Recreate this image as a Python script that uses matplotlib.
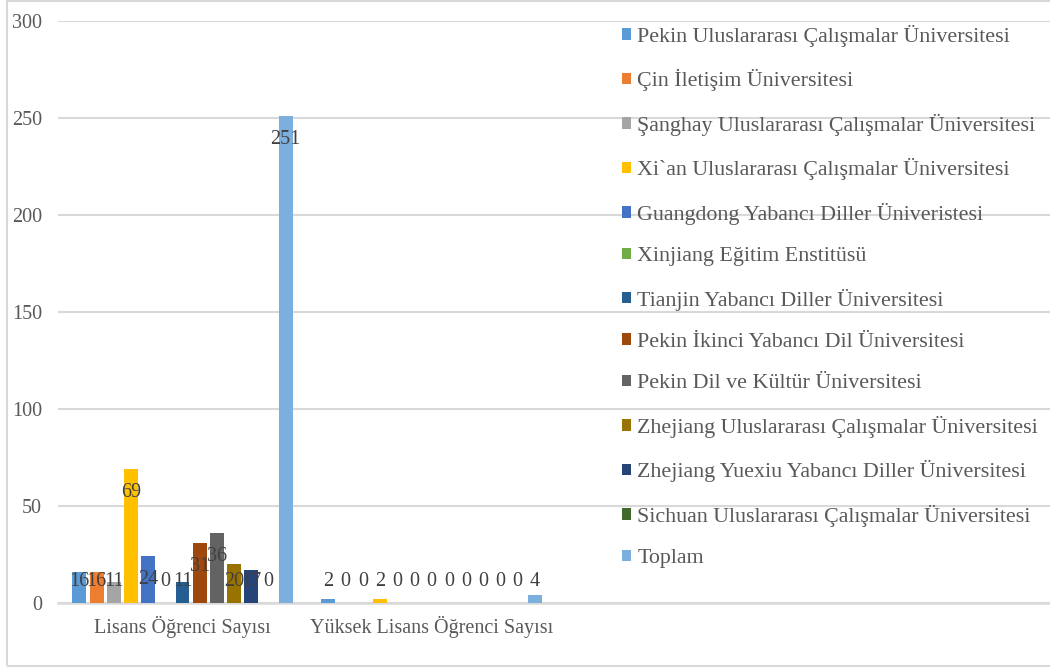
import matplotlib.pyplot as plt
import numpy as np
from matplotlib.patches import Rectangle

# veriler
kategoriler = ['Lisans Öğrenci Sayısı', 'Yüksek Lisans Öğrenci Sayısı']
universiteler = [
    'Pekin Uluslararası Çalışmalar Üniversitesi',
    'Çin İletişim Üniversitesi',
    'Şanghay Uluslararası Çalışmalar Üniversitesi',
    'Xi`an Uluslararası Çalışmalar Üniversitesi',
    'Guangdong Yabancı Diller Üniveristesi',
    'Xinjiang Eğitim Enstitüsü',
    'Tianjin Yabancı Diller Üniversitesi',
    'Pekin İkinci Yabancı Dil Üniversitesi',
    'Pekin Dil ve Kültür Üniversitesi',
    'Zhejiang Uluslararası Çalışmalar Üniversitesi',
    'Zhejiang Yuexiu Yabancı Diller Üniversitesi',
    'Sichuan Uluslararası Çalışmalar Üniversitesi',
    'Toplam',
]
lisans = [16, 16, 11, 69, 24, 0, 11, 31, 36, 20, 17, 0, 251]
yuksek_lisans = [2, 0, 0, 2, 0, 0, 0, 0, 0, 0, 0, 0, 4]
renkler = ['#5B9BD5', '#ED7D31', '#A5A5A5', '#FFC000', '#4472C4', '#70AD47',
           '#255E91', '#9E480E', '#636363', '#997300', '#264478', '#43682B',
           '#7CAFDD']

plt.rcParams['font.family'] = ['Liberation Serif', 'DejaVu Serif']
fs = 14.5      # eksen ve etiket yazıları
fs_leg = 15.8  # lejant

fig = plt.figure(figsize=(10.5, 6.69), dpi=100)
ax = fig.add_axes([58 / 1050, 1 - 603 / 669, 1 - 58 / 1050 + 0.004, (603 - 21) / 669])

n = len(universiteler)
adim = 0.069
genislik = 0.056
x = np.arange(len(kategoriler))
handles = []
for i in range(n):
    vals = [lisans[i], yuksek_lisans[i]]
    pos = x + (i - (n - 1) / 2) * adim
    b = ax.bar(pos, vals, genislik, color=renkler[i], label=universiteler[i], zorder=3)
    handles.append(b)
    for px_, v in zip(pos, vals):
        ax.text(px_, max(v - 12, 11.3), str(v), ha='center', va='center',
                fontsize=fs, color='#404040', zorder=4)

ax.set_xlim(-0.5, 3.5)
ax.set_ylim(0, 300)
ax.set_yticks(range(0, 301, 50))
ax.set_xticks(x)
ax.set_xticklabels(kategoriler)
ax.yaxis.grid(True, color='#D9D9D9', linewidth=1.5, zorder=0)
ax.tick_params(axis='both', length=0, labelsize=fs, labelcolor='#595959')
ax.tick_params(axis='y', pad=11.5)
ax.tick_params(axis='x', pad=9.5)
for s in ['top', 'right', 'left']:
    ax.spines[s].set_visible(False)
ax.spines['bottom'].set_color('#D9D9D9')
ax.spines['bottom'].set_linewidth(1.8)

leg = ax.legend(handles=handles, loc='upper left', bbox_to_anchor=(613 / 1050, 1 - 16 / 669),
                bbox_transform=fig.transFigure, frameon=False, fontsize=fs_leg,
                labelspacing=1.02, handlelength=0.42, handleheight=0.42,
                handletextpad=0.28, borderaxespad=0)
for t in leg.get_texts():
    t.set_color('#595959')

# dış çerçeve
fig.patches.append(Rectangle((7 / 1050, 3 / 669), 1.1, 665 / 669, transform=fig.transFigure,
                             fill=False, edgecolor='#D9D9D9', linewidth=1.5))

fig.savefig('out.png', dpi=100)
